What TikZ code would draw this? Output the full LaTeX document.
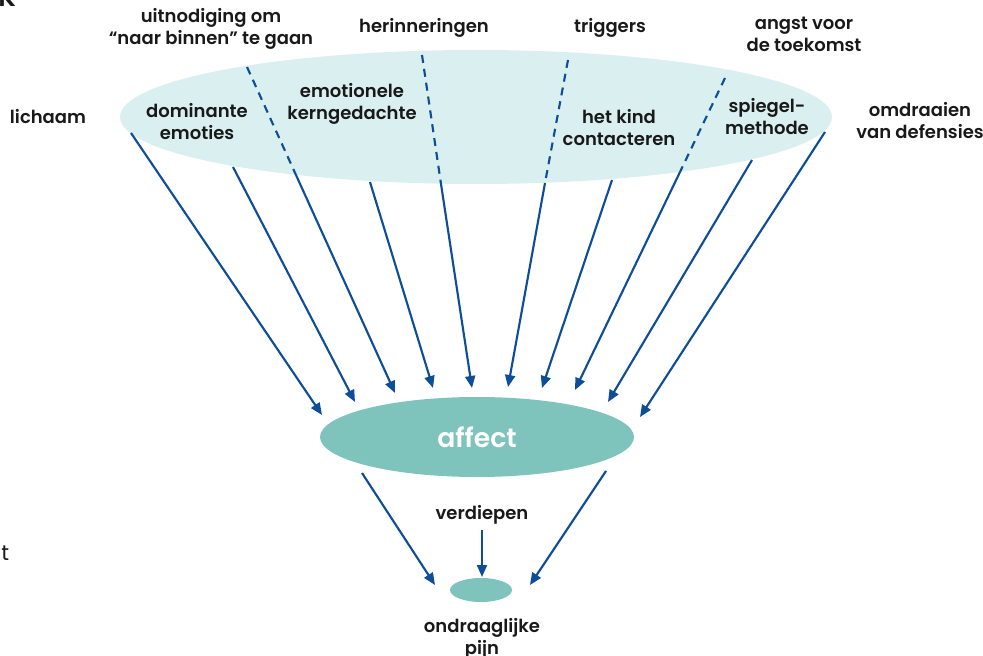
\documentclass[tikz,border=0pt]{standalone}
\usepackage{fontspec}
\setmainfont{Poppins}[UprightFont={* Medium},BoldFont={* SemiBold}]
\usetikzlibrary{arrows.meta,shapes.geometric}
\definecolor{arrowblue}{RGB}{14,78,152}
\definecolor{lightcyan}{RGB}{218,239,240}
\definecolor{tealfill}{RGB}{127,196,188}
\definecolor{txt}{RGB}{25,25,25}
\begin{document}
\begin{tikzpicture}[x=0.75pt,y=-0.75pt,
  lbl/.style={font=\fontsize{13.5}{16.5}\bfseries\selectfont,text=txt,align=center,inner sep=0pt},
  arr/.style={draw=arrowblue,line width=1.6pt,-{Triangle[length=9pt,width=7.5pt]}},
  dsh/.style={draw=arrowblue,line width=1.6pt,dash pattern=on 6pt off 4.5pt},
  ell/.style={ellipse,inner sep=0pt,draw=none}]
\useasboundingbox (0,0) rectangle (983,656);
% ellipses
\node[ell,fill=lightcyan,minimum width=534pt,minimum height=100.5pt] (top) at (476,117) {};
\node[ell,fill=tealfill,minimum width=235.5pt,minimum height=60pt,text=white,font=\fontsize{20}{22}\bfseries\selectfont] (affect) at (477,437) {affect};
\node[ell,fill=tealfill,minimum width=46.5pt,minimum height=18pt] (pain) at (481,590) {};
% coordinates: solid starts
\coordinate (sA) at (131,133); \coordinate (tA) at (322,415);
\coordinate (sB) at (233,167); \coordinate (tB) at (355,402);
\coordinate (sD) at (370,182); \coordinate (tD) at (433,388);
\coordinate (sG) at (612,180); \coordinate (tG) at (542,388);
\coordinate (sI) at (752,160); \coordinate (tI) at (608,402);
\coordinate (sJ) at (825,132); \coordinate (tJ) at (640,417);
% dashed ones
\coordinate (d1s) at (247,67);  \coordinate (d1m) at (296,175); \coordinate (t1) at (395,393);
\coordinate (d2s) at (422,55);  \coordinate (d2m) at (441,184); \coordinate (t2) at (472,388);
\coordinate (d3s) at (568,60);  \coordinate (d3m) at (545,183); \coordinate (t3) at (508,387);
\coordinate (d4s) at (725,78);  \coordinate (d4m) at (680,172); \coordinate (t4) at (575,390);
\draw[arr] (sA) -- (tA);
\draw[arr] (sB) -- (tB);
\draw[arr] (sD) -- (tD);
\draw[arr] (sG) -- (tG);
\draw[arr] (sI) -- (tI);
\draw[arr] (sJ) -- (tJ);
\draw[dsh] (d1s) -- (d1m); \draw[arr] (d1m) -- (t1);
\draw[dsh] (d2s) -- (d2m); \draw[arr] (d2m) -- (t2);
\draw[dsh] (d3s) -- (d3m); \draw[arr] (d3m) -- (t3);
\draw[dsh] (d4s) -- (d4m); \draw[arr] (d4m) -- (t4);
% bottom arrows
\coordinate (bLs) at (362,473); \coordinate (bLt) at (435,585);
\coordinate (bRs) at (606,471); \coordinate (bRt) at (530,585);
\coordinate (bMs) at (482,530); \coordinate (bMt) at (482,577);
\draw[arr] (bLs) -- (bLt);
\draw[arr] (bRs) -- (bRt);
\draw[arr] (bMs) -- (bMt);
% labels
\node[lbl] (uit) at (211,29) {uitnodiging om\\“naar binnen” te gaan};
\node[lbl] (her) at (424,28) {herinneringen};
\node[lbl] (trig) at (610,28) {triggers};
\node[lbl] (angst) at (804,34) {angst voor\\de toekomst};
\node[lbl] (lich) at (48,117) {lichaam};
\node[lbl] (dom) at (197,122) {dominante\\emoties};
\node[lbl] (emo) at (352,104) {emotionele\\kerngedachte};
\node[lbl] (kind) at (619,128) {het kind\\contacteren};
\node[lbl] (spieg) at (767,117) {spiegel-\\methode};
\node[lbl] (omd) at (920,121) {omdraaien\\van defensies};
\node[lbl] (verd) at (482,515) {verdiepen};
\node[lbl] (ondr) at (482,639) {ondraaglijke\\pijn};
% cropped page fragments
\node[anchor=base west,inner sep=0pt,font=\fontsize{20}{22}\bfseries\selectfont,text=txt] (kfrag) at (-2,7) {K};
\node[anchor=base west,inner sep=0pt,font=\fontsize{16}{18}\fontspec{Poppins}\selectfont,text=txt] (tfrag) at (1,560) {t};
\end{tikzpicture}
\end{document}
